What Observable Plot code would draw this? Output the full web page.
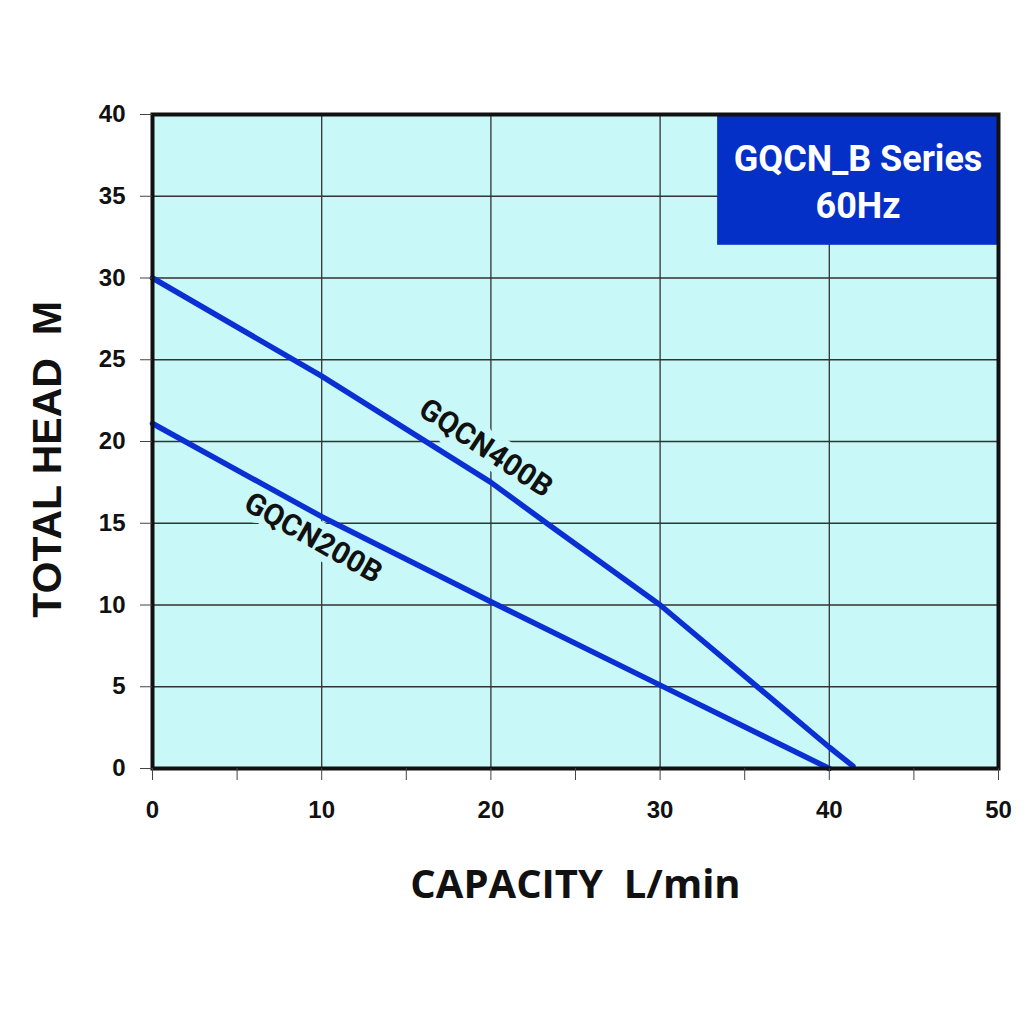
<!DOCTYPE html>
<html>
<head>
<meta charset="utf-8">
<script src="https://cdn.jsdelivr.net/npm/d3@7"></script>
<script src="https://cdn.jsdelivr.net/npm/@observablehq/plot@0.6"></script>
<style>
  html, body { margin: 0; padding: 0; background: #fff; }
</style>
</head>
<body>
<div id="chart"></div>
<script>
// ---- data ----
const capacity400 = [0, 10, 20, 23.3, 30, 40, 41.4];
const head400     = [30, 24, 17.5, 15, 10, 1.3, 0.15];
const capacity200 = [0, 10, 20, 30, 40];
const head200     = [21.1, 15.4, 10.2, 5.1, 0];
const seriesNames = ["GQCN400B", "GQCN200B"];
const labelX = [19.7, 9.5];
const labelY = [19.6, 14.1];
const labelAngle = [33.5, 29.5];
const xTicks = [0, 5, 10, 15, 20, 25, 30, 35, 40, 45, 50];
const yTicks = [0, 5, 10, 15, 20, 25, 30, 35, 40];
const titleLines = "GQCN_B Series\n60Hz";
const boxX = [33.4, 50];
const boxY = [32, 40];
const xTitle = "CAPACITY  L/min";
const yTitle = "TOTAL HEAD  M";
const yTitlePos = {x: -6.2, y: 18.9};

const line400 = capacity400.map((c, i) => ({x: c, y: head400[i]}));
const line200 = capacity200.map((c, i) => ({x: c, y: head200[i]}));
const labels = seriesNames.map((n, i) => ({name: n, x: labelX[i], y: labelY[i], a: labelAngle[i]}));

const bg = "#c8f8f8";
const blue = "#0a2fd2";

const chart = Plot.plot({
  width: 1024,
  height: 1024,
  marginTop: 114,
  marginRight: 26,
  marginBottom: 256,
  marginLeft: 152,
  style: {fontFamily: "'Liberation Sans', Arial, sans-serif", background: "#fff", color: "#111", overflow: "visible"},
  x: {domain: [0, 50]},
  y: {domain: [0, 40]},
  marks: [
    Plot.frame({fill: bg}),
    Plot.gridX([10, 20, 30, 40], {stroke: "#333", strokeOpacity: 1, strokeWidth: 1.3}),
    Plot.gridY(yTicks.filter(d => d > 0 && d < 40), {stroke: "#333", strokeOpacity: 1, strokeWidth: 1.3}),
    Plot.text(labels, {
      x: "x", y: "y", text: "name",
      rotate: d => d.a,
      fontFamily: "Roboto, sans-serif", fontWeight: "bold", fontSize: 30,
      fill: "#111", stroke: bg, strokeWidth: 14, paintOrder: "stroke"
    }),
    Plot.line(line400, {x: "x", y: "y", stroke: blue, strokeWidth: 5.5}),
    Plot.line(line200, {x: "x", y: "y", stroke: blue, strokeWidth: 5.5}),
    Plot.rect([0], {x1: () => boxX[0], x2: () => boxX[1], y1: () => boxY[0], y2: () => boxY[1], fill: "#0530c8"}),
    Plot.text([titleLines], {
      x: (boxX[0] + boxX[1]) / 2, y: (boxY[0] + boxY[1]) / 2, text: d => d,
      fill: "#fff", fontFamily: "Roboto, sans-serif", fontWeight: "bold", fontSize: 36, lineHeight: 1.3
    }),
    Plot.frame({stroke: "#111", strokeWidth: 4}),
    Plot.axisY({ticks: yTicks, tickSize: 12, tickPadding: 15, fontSize: 24, fontWeight: "bold", label: null, stroke: "#444"}),
    Plot.axisX({ticks: xTicks, tickSize: 12, tickPadding: 20, fontSize: 24, fontWeight: "bold", label: null,
      tickFormat: d => d % 10 === 0 ? String(d) : "", stroke: "#444"}),
    Plot.text([xTitle], {frameAnchor: "bottom", dy: 129, text: d => d, fontFamily: "'Open Sans', sans-serif",
      fontWeight: "bold", fontSize: 40, fill: "#111"}),
    Plot.text([yTitle], {x: () => yTitlePos.x, y: () => yTitlePos.y, rotate: -90, text: d => d,
      fontFamily: "'Liberation Sans', Arial, sans-serif", fontWeight: "bold", fontSize: 41, fill: "#111", clip: false})
  ]
});
document.getElementById("chart").appendChild(chart);
</script>
</body>
</html>
